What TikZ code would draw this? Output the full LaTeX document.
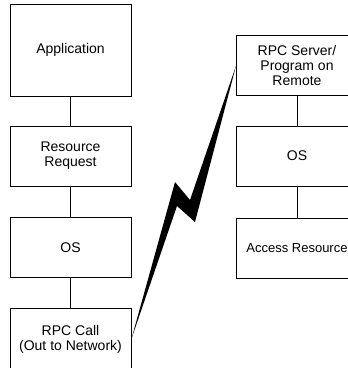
\documentclass[tikz,border=0pt]{standalone}
\usepackage{fontspec}
\setmainfont{Liberation Sans}
\tikzset{
	layer/.style={draw, line width=0.8pt, minimum width=121pt, minimum height=60pt,
		inner sep=2pt, align=center, font=\fontsize{14}{14.8}\selectfont},
	link/.style={line width=0.8pt},
}
\begin{document}
\begin{tikzpicture}[x=1pt, y=-1pt]
	\useasboundingbox (0, 0) rectangle (348, 368);

		% local side
		\node[layer, minimum height=92pt] (app) at (70.5, 50) {Application};
		\node[layer] (request) at (70.5, 156) {Resource\\Request};
		\node[layer] (localos) at (70.5, 247.5) {OS};
		\node[layer, minimum height=62pt] (call) at (70.5, 339) {RPC Call\\(Out to Network)};

		% remote side
		\node[layer] (server) at (297, 65.5) {RPC Server/\\Program on\\Remote};
		\node[layer] (remoteos) at (297, 156) {OS};
		\node[layer, font=\fontsize{13}{14.8}\selectfont] (access) at (297, 248) {Access Resource};

		\draw[link](app) -- (request);
		\draw[link](request) -- (localos);
		\draw[link](localos) -- (call);
		\draw[link](server) -- (remoteos);
		\draw[link](remoteos) -- (access);

		% network bolt
		\fill(call.east) -- (175, 182) -- (190, 200) -- (server.west)
			-- (195, 222) -- (177, 206) -- cycle;

	\end{tikzpicture}
\end{document}
